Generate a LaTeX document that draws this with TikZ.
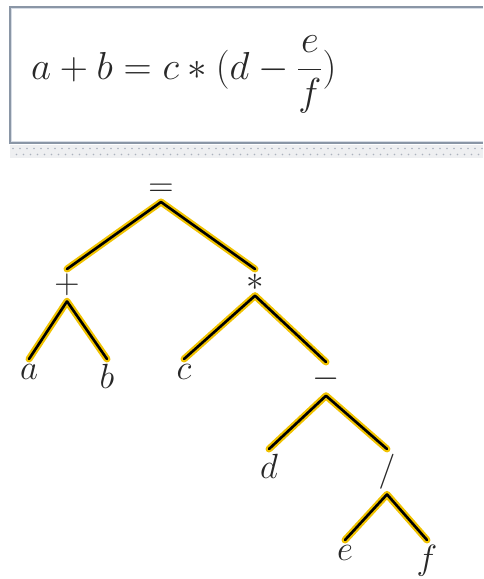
\RequirePackage{fix-cm}
\documentclass[tikz,border=0pt]{standalone}
\usepackage{amsmath}
\usetikzlibrary{positioning}
\definecolor{halo}{RGB}{240,194,0}
\definecolor{ink}{RGB}{40,40,40}
\definecolor{frame}{RGB}{138,150,166}
\definecolor{framelight}{RGB}{214,220,229}
\definecolor{strip}{RGB}{238,239,241}
\definecolor{speck}{RGB}{170,177,189}
\tikzset{
  sym/.style={font=\fontsize{35}{42}\selectfont, text=ink,
    inner sep=5pt, anchor=north},
  branch/.style={draw=black, line width=2.6pt, line cap=round,
    preaction={draw=halo, line width=7pt, line cap=round}}
}

\begin{document}
\begin{tikzpicture}[x=1pt,y=-1pt]
  \useasboundingbox (0,0) rectangle (483,579);
  % formula box
  \fill[strip] (10,145) rectangle (483,158);
  \foreach \x in {13,20,...,483}{
    \fill[speck] (\x,148.5) circle (0.8);
    \fill[speck] (\x+3.5,154.5) circle (0.8);
  }
  \draw[framelight, line width=1pt] (483,8.5) -| (11.5,141) -- (483,141);
  \draw[frame, line width=2pt] (483,7) -| (10,142.5) -- (483,142.5);
  \node[anchor=base west, inner sep=0pt, text=ink,
    font=\fontsize{39}{47}\selectfont] (formula) at (31,79)
    {$a+b=c*(d-\dfrac{e}{f})$};
  % expression tree
  \node[sym, anchor=south] (equals) at (161,202) {$=$};
  \node[sym] (plus) at (67,269) {$+$};
  \node[sym] (times) at (255,269) {$*$};
  \node[sym] (a) at (29,359) {$a$};
  \node[sym] (b) at (107,359) {$b$};
  \node[sym] (c) at (184,359) {$c$};
  \node[sym] (minus) at (326,362) {$-$};
  \node[sym] (d) at (269,449) {$d$};
  \node[sym] (slash) at (387,449) {$/$};
  \node[sym] (e) at (345,540) {$e$};
  \node[sym] (f) at (427,540) {$f$};
  \draw[branch] foreach \p/\c in {equals/plus, equals/times, plus/a,
      plus/b, times/c, times/minus, minus/d, minus/slash, slash/e, slash/f}
    {(\p.south) -- (\c.north)};
\end{tikzpicture}
\end{document}
